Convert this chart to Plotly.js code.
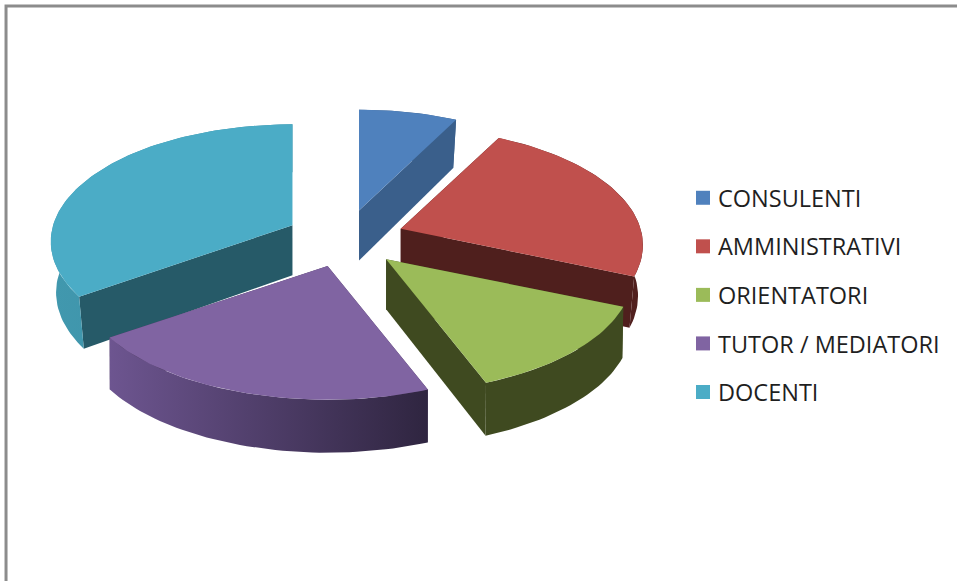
<!DOCTYPE html>
<html>
<head>
<meta charset="utf-8">
<script src="https://cdn.plot.ly/plotly-3.0.1.min.js"></script>
<style>html,body{margin:0;padding:0;background:#fff}</style>
</head>
<body>
<div id="chart" style="width:957px;height:581px"></div>
<script>
// Data (share of the total, %)
const categories = ["CONSULENTI", "AMMINISTRATIVI", "ORIENTATORI", "TUTOR / MEDIATORI", "DOCENTI"];
const shares = [7.6, 23.8, 12.8, 21.1, 34.7];

// Styles
const topColors = ["#4f81bd", "#c0504d", "#9bbb59", "#8064a2", "#4bacc6"];
const faceColors = ["#3a5f8b", "#4f1f1d", "#3f4a20", "#4a3a5e", "#265a68"];
const rimStart = ["#3a5f8b", "#6a2a28", "#3f4a20", "#6d5590", "#4198ae"];
const rimEnd = ["#3a5f8b", "#4f1f1d", "#3f4a20", "#2f2540", "#3a8ca3"];
const drawOrder = [0, 1, 4, 2, 3];

// 3-D projection of the pie
const view = {cx: 345, cy: 238.5, rx: 241, ry: 115, persp: 0.14, explode: 0.25, depth: 50};
const rad = d => d * Math.PI / 180;

function project(theta, mid, r) {
  const s = 1 / (1 + view.persp * Math.cos(rad(theta)));
  const near = 1 - 0.015 * Math.cos(rad(mid));
  return [
    view.cx + view.explode * 237 * Math.sin(rad(mid)) + r * view.rx * near * Math.sin(rad(theta)) * s,
    view.cy - view.explode * view.ry * Math.cos(rad(mid)) - r * view.ry * Math.cos(rad(theta)) * s
  ];
}
const rimDepth = t => view.depth + 0.5 - 2.5 * Math.cos(rad(t));

function poly(pts, fillOpts) {
  return Object.assign({
    x: pts.map(p => p[0]), y: pts.map(p => p[1]),
    type: "scatter", mode: "lines", fill: "toself",
    line: {width: 0}, hoverinfo: "skip", showlegend: false
  }, fillOpts);
}

const total = shares.reduce((a, b) => a + b, 0);
const angles = [];
let running = 0;
shares.forEach(v => { const a0 = running / total * 360; running += v; angles.push([a0, running / total * 360]); });

const traces = [];
drawOrder.forEach(i => {
  const [a0, a1] = angles[i];
  const mid = (a0 + a1) / 2;
  const arc = [];
  for (let t = a0; t < a1; t += 1.5) arc.push(t);
  arc.push(a1);
  const apex = project(0, mid, 0);
  // the lower edge of a far slice is drawn slightly narrower than the upper one
  const taper = 0.985 - 0.015 * Math.cos(rad(mid));
  const lower = t => {
    const q = project(t, mid, 1);
    return [apex[0] + (q[0] - apex[0]) * taper, q[1] + rimDepth(t)];
  };
  const apexLow = [apex[0], apex[1] + view.depth];
  const radialFace = t => poly([apex, project(t, mid, 1), lower(t), apexLow, apex], {fillcolor: faceColors[i]});
  traces.push(radialFace(a0));
  traces.push(radialFace(a1));
  const topArc = arc.map(t => project(t, mid, 1));
  const botArc = arc.map(lower).reverse();
  traces.push(poly(topArc.concat(botArc), {
    fillgradient: {type: "horizontal", colorscale: [[0, rimStart[i]], [1, rimEnd[i]]]}
  }));
  traces.push(poly([apex].concat(topArc, [apex]), {fillcolor: topColors[i]}));
});

// Legend entries
categories.forEach((c, i) => {
  traces.push({
    x: [null], y: [null], type: "scatter", mode: "markers", name: c,
    legendgroup: c, hoverinfo: "skip",
    marker: {symbol: "square", size: 14, color: topColors[i]}
  });
});

const hidden = {visible: false, fixedrange: true};
const layout = {
  width: 957, height: 581,
  margin: {l: 0, r: 0, t: 0, b: 0},
  paper_bgcolor: "#fff", plot_bgcolor: "#fff",
  xaxis: Object.assign({range: [0, 957]}, hidden),
  yaxis: Object.assign({range: [581, 0]}, hidden),
  legend: {
    x: 678 / 957, xanchor: "left", y: 1 - 176 / 581, yanchor: "top",
    font: {family: "Open Sans, sans-serif", size: 23.5, color: "#1f1f1f"},
    tracegroupgap: 15, bgcolor: "rgba(0,0,0,0)", borderwidth: 0
  },
  shapes: [{
    type: "path", xref: "paper", yref: "paper",
    path: "M 0.0063 0 L 0.0063 0.9897 L 1.1 0.9897",
    line: {color: "#8c8c8c", width: 3}
  }]
};
Plotly.newPlot("chart", traces, layout, {displayModeBar: false, staticPlot: true}).then(() => {
  document.querySelectorAll(".legend .legendpoints").forEach(g => g.setAttribute("transform", "translate(5,0)"));
});
</script>
</body>
</html>
